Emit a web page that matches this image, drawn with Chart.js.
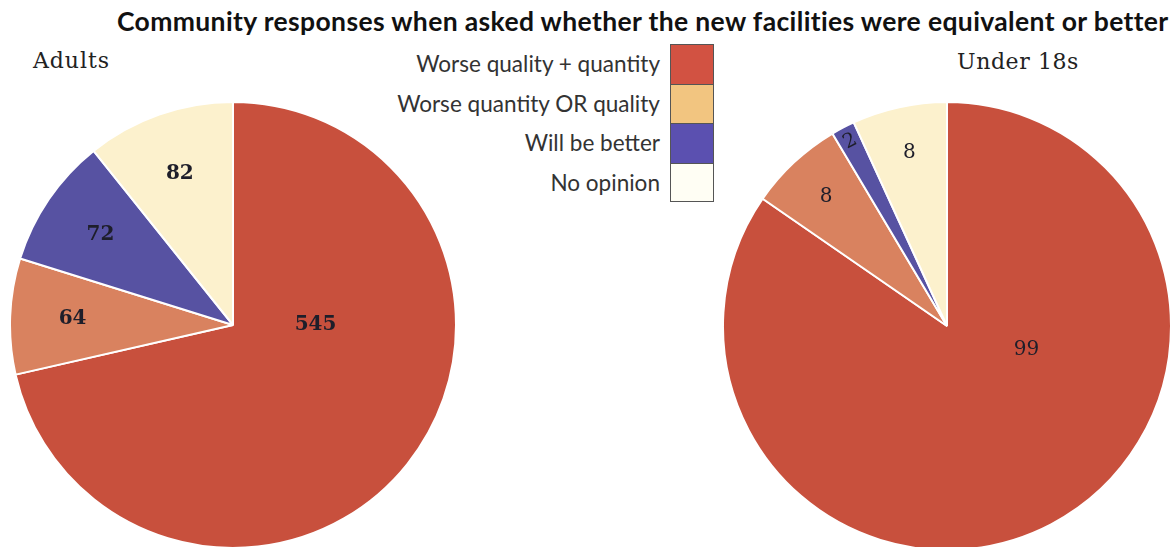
<!DOCTYPE html>
<html>
<head>
<meta charset="utf-8">
<script src="https://cdn.jsdelivr.net/npm/chart.js@4.4.0/dist/chart.umd.min.js"></script>
<style>
  html, body { margin: 0; padding: 0; background: #fff; overflow: hidden; }
  body { width: 1173px; height: 547px; position: relative; }
  #title { position: absolute; left: 117px; top: 5px;
    font-family: Lato, "Open Sans", sans-serif; font-weight: bold; font-size: 26.5px; color: #111; white-space: nowrap; }
  .sub { position: absolute; font-family: "DejaVu Serif", serif; font-size: 22px; color: #222; white-space: nowrap; }
  #legend { position: absolute; left: 300px; top: 44px; width: 414px; }
  .row { display: flex; justify-content: flex-end; align-items: center; height: 39.5px; }
  .row span { font-family: Lato, "Open Sans", sans-serif; font-size: 22px; color: #333; margin-right: 10px; white-space: nowrap; }
  .row i { display: block; width: 44px; height: 39.5px; box-sizing: border-box; border-left: 1px solid #555; border-right: 1px solid #555; }
  canvas { position: absolute; }
</style>
</head>
<body>
<div id="title">Community responses when asked whether the new facilities were equivalent or better</div>
<div class="sub" id="adultsTitle" style="left:33px; top:48px;">Adults</div>
<div class="sub" id="underTitle" style="left:957px; top:49px;">Under 18s</div>
<div id="legend"></div>
<div style="position:absolute;left:0;top:100px;width:470px;height:450px;"><canvas id="adults"></canvas></div>
<div style="position:absolute;left:720px;top:100px;width:453px;height:450px;"><canvas id="under18"></canvas></div>
<script>
const categories = ['Worse quality + quantity', 'Worse quantity OR quality', 'Will be better', 'No opinion'];
const adultValues = [545, 64, 72, 82];
const under18Values = [99, 8, 2, 8];
const pieColors = ['#c8503d', '#d9825f', '#5752a2', '#fcf1cd'];
const legendColors = ['#d25242', '#f2c580', '#5b50b0', '#fffef4'];

// stretch a text element to a given width with letter spacing
function fitWidth(el, target) {
  const w = el.getBoundingClientRect().width;
  const n = el.textContent.length;
  el.style.letterSpacing = ((target - w) / n) + 'px';
}

// legend built from the categories
const legend = document.getElementById('legend');
categories.forEach((c, i) => {
  const row = document.createElement('div');
  row.className = 'row';
  const s = document.createElement('span');
  s.textContent = c;
  const box = document.createElement('i');
  box.style.background = legendColors[i];
  box.style.borderTop = '1px solid #555';
  if (i === categories.length - 1) box.style.borderBottom = '1px solid #555';
  row.appendChild(s);
  row.appendChild(box);
  legend.appendChild(row);
});

fitWidth(document.getElementById('title'), 1051);
fitWidth(document.getElementById('adultsTitle'), 77);
fitWidth(document.getElementById('underTitle'), 122);
const spans = legend.querySelectorAll('span');
const scale = 263 / spans[1].getBoundingClientRect().width;
spans.forEach(s => { s.style.fontSize = (22 * scale) + 'px'; });

// draws the value inside each slice
const sliceLabels = {
  id: 'sliceLabels',
  afterDatasetsDraw(chart, args, opts) {
    const ctx = chart.ctx;
    const data = chart.data.datasets[0].data;
    const total = data.reduce((a, b) => a + b, 0);
    chart.getDatasetMeta(0).data.forEach((arc, i) => {
      const p = arc.getProps(['x', 'y', 'startAngle', 'endAngle', 'outerRadius']);
      const share = data[i] / total;
      let a, r, rot = 0;
      if (share > 0.5) {
        a = p.startAngle + (p.endAngle - p.startAngle) * 0.35;
        r = p.outerRadius * 0.37;
      } else if (share < 0.03) {
        a = (p.startAngle + p.endAngle) / 2;
        r = p.outerRadius * 0.93;
        rot = a + Math.PI / 2;
      } else {
        a = (p.startAngle + p.endAngle) / 2;
        r = p.outerRadius * opts.radius;
      }
      ctx.save();
      ctx.translate(p.x + Math.cos(a) * r, p.y + Math.sin(a) * r);
      ctx.rotate(rot);
      ctx.font = opts.font;
      ctx.fillStyle = '#1e1e2a';
      ctx.textAlign = 'center';
      ctx.textBaseline = 'middle';
      ctx.fillText(String(data[i]), 0, 0);
      ctx.restore();
    });
  }
};

function makePie(id, values, size, labelRadius, font) {
  const canvas = document.getElementById(id);
  canvas.style.left = size.left + 'px';
  canvas.style.top = size.top + 'px';
  canvas.style.width = size.d + 'px';
  canvas.style.height = size.d + 'px';
  canvas.width = size.d;
  canvas.height = size.d;
  new Chart(canvas.getContext('2d'), {
    type: 'pie',
    data: {
      labels: categories,
      datasets: [{
        data: values,
        backgroundColor: pieColors,
        borderColor: '#ffffff',
        borderWidth: 2
      }]
    },
    options: {
      responsive: false,
      animation: false,
      layout: { padding: 0 },
      plugins: {
        legend: { display: false },
        tooltip: { enabled: false },
        sliceLabels: { radius: labelRadius, font: font }
      }
    },
    plugins: [sliceLabels]
  });
}

makePie('adults', adultValues, { left: 9, top: 1, d: 448 }, 0.72, 'bold 20px "DejaVu Serif", serif');
makePie('under18', under18Values, { left: 2, top: 1, d: 450 }, 0.79, '20px "DejaVu Serif", serif');
</script>
</body>
</html>
